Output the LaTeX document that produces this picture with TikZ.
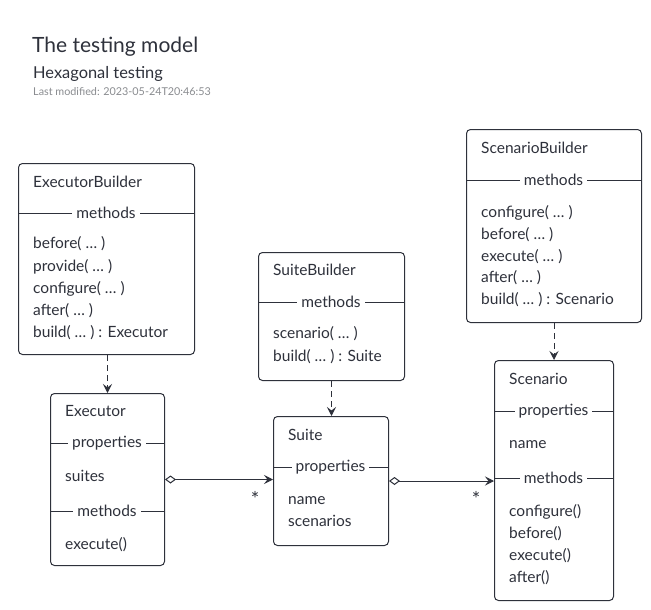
\documentclass[tikz,border=0pt]{standalone}
\usepackage{fontspec}
\setmainfont{Lato}
\usetikzlibrary{arrows.meta}
\definecolor{ink}{HTML}{2E313B}
\definecolor{faint}{HTML}{8A8C90}
\newcommand\bodyfont{\fontsize{15.5}{18}\selectfont}
\tikzset{
  box/.style={draw=ink, line width=1pt, rounded corners=4pt, anchor=north west, inner sep=0pt},
  txt/.style={anchor=mid west, inner sep=0pt, yshift=-2.5pt, text=ink, font=\bodyfont},
  seplbl/.style={fill=white, inner xsep=4pt, inner ysep=1pt, text=ink, font=\bodyfont},
  sepline/.style={draw=ink, line width=1pt},
  dep/.style={draw=ink, line width=1pt, dash pattern=on 6pt off 4pt, -{Stealth[length=9pt,width=9pt,inset=3.5pt]}},
  agg/.style={draw=ink, line width=1pt, {Diamond[open,length=11pt,width=8pt]}-{Stealth[length=9pt,width=9pt,inset=3.5pt]}},
  mult/.style={inner sep=0pt, text=ink, font=\fontsize{20}{22}\selectfont}
}
\begin{document}
\begin{tikzpicture}[x=1pt,y=-1pt]
\useasboundingbox[fill=white] (0,0) rectangle (651,610);
% header
\node[anchor=mid west, inner sep=0pt, yshift=-3pt, text=ink, font=\fontsize{21}{25}\selectfont] (title) at (32,47) {The testing model};
\node[anchor=mid west, inner sep=0pt, yshift=-2.5pt, text=ink, font=\fontsize{16.4}{19}\selectfont] (subtitle) at (33,73) {Hexagonal testing};
\node[anchor=mid west, inner sep=0pt, yshift=-1.5pt, text=faint, font=\fontsize{10.8}{12}\selectfont] (modified) at (33,91) {Last modified: 2023-05-24T20:46:53};

% ExecutorBuilder
\node[box, minimum width=176pt, minimum height=191pt] (eb) at (18,163) {};
\node[txt] (ebt) at (33,182) {ExecutorBuilder};
\draw[sepline] (18,213) -- (194,213);
\node[seplbl] (ebm) at (106,213) {methods};
\node[txt] (eb1) at (33,243) {before( … )};
\node[txt] (eb2) at (33,266) {provide( … )};
\node[txt] (eb3) at (33,288) {configure( … )};
\node[txt] (eb4) at (33,310) {after( … )};
\node[txt] (eb5) at (33,332) {build( … ) : Executor};

% Executor
\node[box, minimum width=114pt, minimum height=172pt] (ex) at (50,393) {};
\node[txt] (ext) at (65,411) {Executor};
\draw[sepline] (50,443) -- (164,443);
\node[seplbl] (exp) at (107,443) {properties};
\node[txt] (ex1) at (65,476) {suites};
\draw[sepline] (50,511) -- (164,511);
\node[seplbl] (exm) at (107,511) {methods};
\node[txt] (ex2) at (65,544) {execute()};

% SuiteBuilder
\node[box, minimum width=146pt, minimum height=128pt] (sb) at (258,252) {};
\node[txt] (sbt) at (273,270) {SuiteBuilder};
\draw[sepline] (258,302) -- (404,302);
\node[seplbl] (sbm) at (331,302) {methods};
\node[txt] (sb1) at (273,333) {scenario( … )};
\node[txt] (sb2) at (273,356) {build( … ) : Suite};

% Suite
\node[box, minimum width=115pt, minimum height=129pt] (su) at (273,416) {};
\node[txt] (sut) at (288,435) {Suite};
\draw[sepline] (273,467) -- (388,467);
\node[seplbl] (sup) at (330.5,467) {properties};
\node[txt] (su1) at (288,499) {name};
\node[txt] (su2) at (288,521) {scenarios};

% ScenarioBuilder
\node[box, minimum width=175pt, minimum height=193pt] (scb) at (466,129) {};
\node[txt] (scbt) at (481,148) {ScenarioBuilder};
\draw[sepline] (466,180) -- (641,180);
\node[seplbl] (scbm) at (553.5,180) {methods};
\node[txt] (scb1) at (481,212) {configure( … )};
\node[txt] (scb2) at (481,234) {before( … )};
\node[txt] (scb3) at (481,256) {execute( … )};
\node[txt] (scb4) at (481,277) {after( … )};
\node[txt] (scb5) at (481,299) {build( … ) : Scenario};

% Scenario
\node[box, minimum width=119pt, minimum height=240pt] (sc) at (494,360) {};
\node[txt] (sct) at (509,379) {Scenario};
\draw[sepline] (494,411) -- (613,411);
\node[seplbl] (scp) at (553.5,411) {properties};
\node[txt] (sc1) at (509,443) {name};
\draw[sepline] (494,478) -- (613,478);
\node[seplbl] (scm) at (553.5,478) {methods};
\node[txt] (sc2) at (509,511) {configure()};
\node[txt] (sc3) at (509,533) {before()};
\node[txt] (sc4) at (509,555) {execute()};
\node[txt] (sc5) at (509,577) {after()};

% connectors
\draw[dep] (eb.south -| ex.north) -- (ex.north);
\draw[dep] (sb.south) -- (sb.south |- su.north);
\draw[dep] (scb.south -| sc.north) -- (sc.north);
\draw[agg] (ex.east) -- (ex.east -| su.west);
\draw[agg] (su.east) -- (su.east -| sc.west);
\node[mult] (m1) at (255,499) {*};
\node[mult] (m2) at (476,499) {*};
\end{tikzpicture}
\end{document}
